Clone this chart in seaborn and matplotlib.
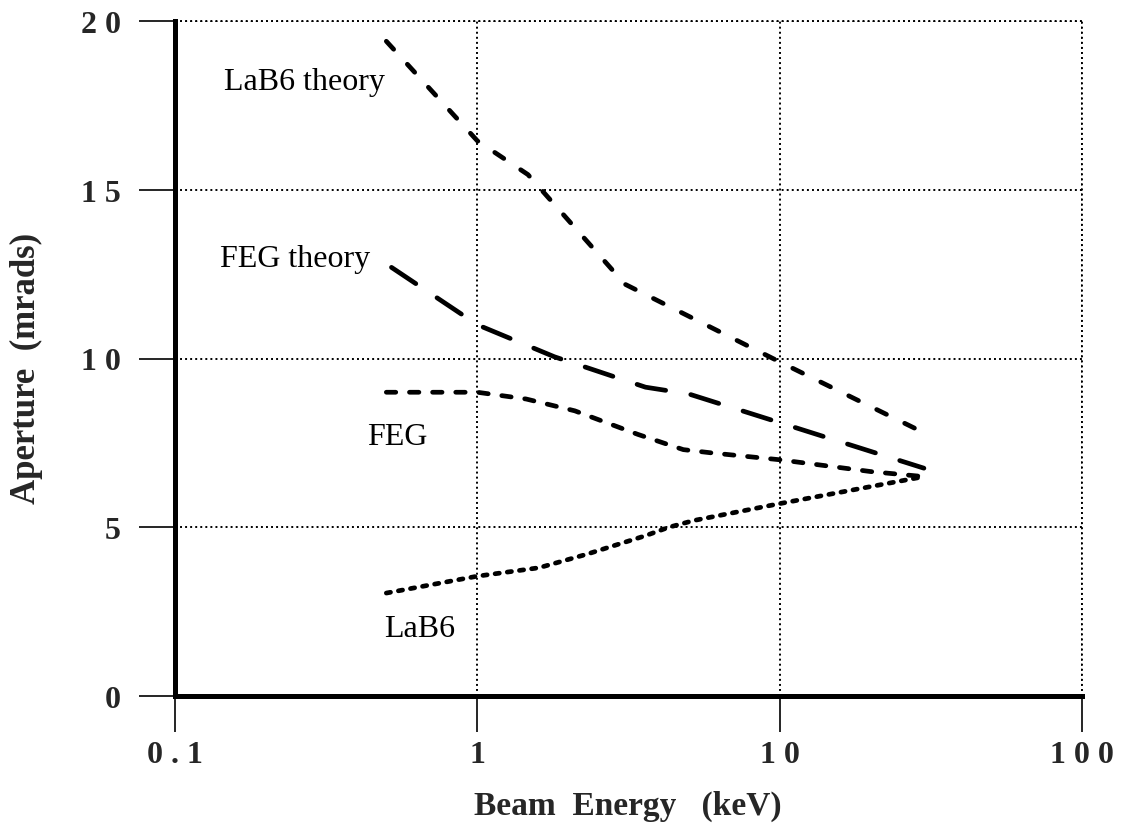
import matplotlib
matplotlib.use("Agg")
import matplotlib.pyplot as plt
import seaborn as sns
import pandas as pd
from matplotlib.ticker import FixedLocator, FixedFormatter, NullLocator

# ---- data ----
lab6_theory_x = [0.5, 1.0, 1.47, 3.08, 10.0, 30.0]
lab6_theory_y = [19.4, 16.45, 15.45, 12.2, 9.9, 7.8]

feg_theory_x = [0.52, 1.0, 1.8, 3.6, 5.0, 10.0, 30.0]
feg_theory_y = [12.7, 11.0, 10.05, 9.15, 8.95, 8.1, 6.75]

feg_x = [0.5, 1.0, 1.45, 2.1, 3.4, 4.8, 6.0, 10.0, 20.0, 30.0]
feg_y = [9.0, 9.0, 8.8, 8.45, 7.75, 7.3, 7.2, 7.0, 6.65, 6.5]

lab6_x = [0.5, 1.0, 1.6, 2.3, 3.6, 4.3, 5.2, 10.0, 30.0]
lab6_y = [3.05, 3.55, 3.8, 4.2, 4.75, 5.0, 5.2, 5.7, 6.5]

x_ticks = [0.1, 1, 10, 100]
x_tick_labels = ["0 . 1", "1", "1 0", "1 0 0"]
y_ticks = [0, 5, 10, 15, 20]
y_tick_labels = ["0", "5", "1 0", "1 5", "2 0"]

series_labels = ["LaB6 theory", "FEG theory", "FEG", "LaB6"]
label_pos_x = [0.145, 0.141, 0.432, 0.492]
label_pos_y = [18.2, 12.95, 7.7, 1.99]

x_title = "Beam  Energy   (keV)"
y_title = "Aperture  (mrads)"

sns.set_style("white")
plt.rcParams["font.family"] = ["Liberation Serif", "DejaVu Serif"]

fig = plt.figure(figsize=(11.21, 8.29), dpi=100)
ax = fig.add_axes([175 / 1121, 1 - 697 / 829, (1082 - 175) / 1121, (697 - 22) / 829])

LW = 3.4
styles = [
    (0, (2.3, 4.3)),   # LaB6 theory: short dashes
    (0, (6.2, 5.4)),   # FEG theory: long dashes
    (0, (2.0, 2.9)),   # FEG: short dashes
    (0, (0.9, 1.7)),   # LaB6: dotted
]
series = [
    (lab6_theory_x, lab6_theory_y),
    (feg_theory_x, feg_theory_y),
    (feg_x, feg_y),
    (lab6_x, lab6_y),
]
for (xs, ys), ls in zip(series, styles):
    df = pd.DataFrame({"x": xs, "y": ys})
    sns.lineplot(data=df, x="x", y="y", ax=ax, color="black", lw=LW,
                 estimator=None, sort=False)
    line = ax.lines[-1]
    line.set_linestyle(ls)
    line.set_dash_capstyle("round")
    line.set_solid_capstyle("round")

ax.set_xscale("log")
ax.set_xlim(0.1, 100)
ax.set_ylim(0, 20)

ax.xaxis.set_major_locator(FixedLocator(x_ticks))
ax.xaxis.set_major_formatter(FixedFormatter(x_tick_labels))
ax.xaxis.set_minor_locator(NullLocator())
ax.yaxis.set_major_locator(FixedLocator(y_ticks))
ax.yaxis.set_major_formatter(FixedFormatter(y_tick_labels))

ax.grid(True, which="major", color="black", linestyle=(0, (1, 1.6)), lw=1.4)
ax.set_axisbelow(True)

for s in ["top", "right"]:
    ax.spines[s].set_visible(False)
for s in ["left", "bottom"]:
    ax.spines[s].set_linewidth(3.6)
    ax.spines[s].set_color("black")

# dotted frame at top and right (grid lines at limits)
ax.axhline(20, color="black", linestyle=(0, (1, 1.6)), lw=1.4, clip_on=False)
ax.axvline(100, color="black", linestyle=(0, (1, 1.6)), lw=1.4, clip_on=False)

ax.tick_params(axis="both", which="major", direction="out", length=26,
               width=1.2, color="black", labelsize=23,
               bottom=True, left=True, top=False, right=False)
ax.tick_params(axis="x", pad=6)
ax.tick_params(axis="y", pad=13)
for lab in ax.get_xticklabels() + ax.get_yticklabels():
    lab.set_fontweight("bold")

ax.set_xlabel(x_title, fontsize=24, fontweight="bold")
ax.set_ylabel(y_title, fontsize=25, fontweight="bold")
ax.xaxis.label.set_va("center")
ax.yaxis.label.set_va("center")
ax.xaxis.set_label_coords((627.5 - 175) / 907, (697 - 806) / 675)
ax.yaxis.set_label_coords((26 - 175) / 907, (697 - 368) / 675)

for txt, lx, ly in zip(series_labels, label_pos_x, label_pos_y):
    ax.text(lx, ly, txt, fontsize=23, ha="left", va="center", color="black")

fig.savefig("out.png", dpi=100)
